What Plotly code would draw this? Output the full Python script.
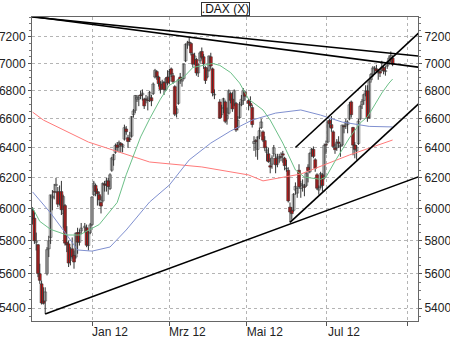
import numpy as np
import pandas as pd
import plotly.graph_objects as go

START = "2011-11-16"
END = "2012-08-22"
holidays = ["2011-12-26", "2012-04-06", "2012-04-09", "2012-05-01"]

opens = [
    5990, 5940, 5790, 5775, 5600, 5540, 5440, 5440, 5600, 5750, 5820,
    6070, 6110, 6150, 6110, 6050, 6110, 5970, 6020, 5790, 5780, 5680, 5750, 5710, 5700, 5850, 5790, 5860, 5880, 5880, 5770, 5850,
    5900, 6090, 6150, 6110, 6090, 6040, 6050, 6160, 6150, 6180, 6130, 6250, 6320, 6370, 6420, 6410, 6430, 6410, 6460, 6530, 6470, 6460,
    6480, 6630, 6660, 6740, 6740, 6770, 6770, 6740, 6740, 6730, 6740, 6750, 6780, 6900, 6940, 6900, 6850, 6820, 6860, 6810, 6900,
    6870, 6960, 6910, 6830, 6640, 6710, 6900, 6870, 6890, 7020, 7140, 7160, 7150, 7070, 7000, 7030, 6930, 7020, 7090, 7050, 6970, 6900,
    6950, 7050, 6960, 6770, 6720, 6630, 6680, 6720, 6600, 6640, 6780, 6740, 6700, 6710, 6540, 6610, 6700, 6730, 6790,
    6730, 6710, 6680, 6430, 6450, 6390, 6480, 6540, 6510, 6450, 6370, 6360, 6280, 6290, 6360, 6330, 6290, 6330, 6340, 6360, 6330, 6260,
    6250, 6010, 5990, 5990, 6120, 6100, 6250, 6130, 6150, 6140, 6150, 6270, 6240, 6370, 6390, 6320, 6220, 6120, 6140, 6220, 6200,
    6420, 6440, 6590, 6560, 6510, 6400, 6400, 6440, 6410, 6420, 6550, 6550, 6560, 6600, 6720, 6540, 6420, 6380, 6430, 6600, 6700, 6730,
    6780, 6800, 6610, 6880, 6920, 6960, 6960, 6930, 6940, 6950, 6970, 6940, 6980, 7010, 7030, 7040,
]
highs = [
    6010, 5980, 5850, 5780, 5660, 5560, 5520, 5520, 5760, 5830, 6090,
    6120, 6160, 6200, 6140, 6150, 6180, 6090, 6030, 5890, 5800, 5760, 5820, 5740, 5850, 5880, 5870, 5910, 5910, 5900, 5860, 5910,
    6080, 6180, 6160, 6130, 6110, 6080, 6170, 6180, 6200, 6200, 6230, 6340, 6360, 6430, 6440, 6450, 6440, 6430, 6560, 6550, 6490, 6510,
    6620, 6670, 6770, 6770, 6770, 6800, 6810, 6750, 6770, 6760, 6800, 6770, 6860, 6960, 6950, 6910, 6870, 6880, 6870, 6900, 6950,
    6960, 6970, 6930, 6840, 6690, 6890, 6930, 6900, 7000, 7150, 7170, 7194, 7160, 7080, 7080, 7040, 7000, 7090, 7120, 7070, 6980, 6970,
    7060, 7080, 6970, 6810, 6740, 6700, 6750, 6730, 6680, 6810, 6790, 6790, 6810, 6720, 6620, 6720, 6770, 6820, 6800,
    6740, 6760, 6700, 6480, 6460, 6480, 6540, 6600, 6520, 6480, 6410, 6400, 6330, 6350, 6420, 6360, 6360, 6360, 6370, 6380, 6340, 6320,
    6270, 6040, 6010, 6100, 6170, 6140, 6290, 6180, 6190, 6160, 6240, 6290, 6370, 6400, 6410, 6330, 6230, 6150, 6240, 6230, 6430,
    6450, 6590, 6600, 6620, 6520, 6430, 6460, 6480, 6430, 6560, 6560, 6600, 6590, 6720, 6730, 6545, 6440, 6420, 6600, 6700, 6740, 6780,
    6840, 6840, 6880, 6930, 6980, 6980, 6990, 6960, 6960, 7020, 6990, 6980, 7020, 7060, 7090, 7060,
]
lows = [
    5900, 5780, 5740, 5580, 5540, 5420, 5420, 5366, 5590, 5700, 5780,
    5990, 6060, 6100, 6010, 6020, 5960, 5880, 5770, 5730, 5640, 5650, 5690, 5630, 5690, 5720, 5770, 5840, 5850, 5760, 5740, 5840,
    5890, 6080, 6080, 6020, 6020, 5970, 6040, 6110, 6110, 6090, 6120, 6240, 6280, 6360, 6380, 6370, 6370, 6370, 6450, 6490, 6400, 6440,
    6470, 6610, 6640, 6720, 6690, 6740, 6730, 6670, 6710, 6660, 6720, 6690, 6770, 6890, 6880, 6830, 6780, 6810, 6770, 6800, 6840,
    6850, 6900, 6850, 6620, 6610, 6700, 6850, 6830, 6880, 7010, 7110, 7130, 7060, 6970, 6990, 6910, 6900, 7000, 7030, 6960, 6850, 6890,
    6940, 6960, 6760, 6740, 6600, 6610, 6640, 6570, 6560, 6630, 6710, 6650, 6690, 6510, 6520, 6600, 6690, 6700, 6730,
    6660, 6680, 6540, 6380, 6340, 6320, 6460, 6530, 6440, 6380, 6310, 6300, 6230, 6260, 6340, 6230, 6270, 6300, 6310, 6300, 6250, 6240,
    6040, 5914, 5930, 5980, 6090, 6070, 6130, 6070, 6110, 6080, 6140, 6170, 6230, 6340, 6330, 6240, 6120, 6090, 6130, 6110, 6190,
    6360, 6430, 6540, 6510, 6400, 6360, 6380, 6400, 6340, 6410, 6500, 6530, 6500, 6590, 6610, 6350, 6330, 6320, 6420, 6590, 6670, 6700,
    6760, 6580, 6600, 6860, 6900, 6920, 6930, 6880, 6900, 6940, 6920, 6910, 6960, 6990, 7010, 6980,
]
closes = [
    5933, 5800, 5800, 5601, 5561, 5429, 5427, 5493, 5745, 5800, 6089,
    6080, 6106, 6157, 6029, 6105, 5994, 6078, 5785, 5774, 5664, 5730, 5702, 5670, 5847, 5791, 5850, 5878, 5890, 5772, 5849, 5898,
    6075, 6166, 6111, 6096, 6057, 6017, 6163, 6152, 6179, 6143, 6220, 6332, 6354, 6416, 6404, 6436, 6419, 6422, 6539, 6511, 6444, 6458,
    6616, 6656, 6766, 6753, 6754, 6765, 6783, 6692, 6738, 6729, 6789, 6728, 6849, 6949, 6903, 6852, 6809, 6864, 6809, 6888, 6856,
    6941, 6921, 6866, 6633, 6671, 6880, 6880, 6879, 6996, 7144, 7154, 7157, 7079, 6995, 7056, 6930, 6996, 7079, 7046, 6998, 6875, 6947,
    7056, 6982, 6784, 6775, 6606, 6674, 6743, 6583, 6625, 6801, 6732, 6671, 6801, 6523, 6590, 6705, 6739, 6801, 6761,
    6710, 6694, 6561, 6444, 6444, 6475, 6518, 6579, 6453, 6401, 6386, 6308, 6271, 6332, 6401, 6287, 6339, 6339, 6337, 6351, 6281, 6264,
    6050, 5979, 5969, 6093, 6144, 6130, 6141, 6162, 6152, 6138, 6229, 6248, 6363, 6392, 6343, 6263, 6132, 6136, 6228, 6150, 6416,
    6419, 6578, 6566, 6536, 6410, 6388, 6440, 6431, 6419, 6557, 6545, 6579, 6577, 6700, 6630, 6419, 6390, 6405, 6584, 6689, 6723, 6772,
    6796, 6606, 6865, 6919, 6967, 6966, 6944, 6945, 6929, 6974, 6946, 6947, 6990, 7040, 7060, 6995,
]

# moving averages (date, value)
ma_green_dates = ["2011-11-16", "2011-11-22", "2011-11-30", "2011-12-13", "2011-12-22", "2012-01-06", "2012-01-20",
                  "2012-01-27", "2012-02-08", "2012-02-15", "2012-02-23", "2012-03-01", "2012-03-13", "2012-03-20",
                  "2012-04-04", "2012-04-10", "2012-04-18", "2012-04-25", "2012-05-02", "2012-05-14", "2012-05-18",
                  "2012-05-29", "2012-06-07", "2012-06-14", "2012-06-27", "2012-07-02", "2012-07-09", "2012-07-19",
                  "2012-07-27", "2012-08-02", "2012-08-07", "2012-08-14", "2012-08-20", "2012-08-22"]
ma_green = [6005, 5920, 5870, 5835, 5835, 5900, 6040, 6220, 6475, 6600, 6740, 6840, 6900, 6970,
            7000, 6986, 6933, 6856, 6740, 6663, 6592, 6433, 6252, 6205, 6190, 6205, 6310, 6468,
            6572, 6614, 6677, 6784, 6856, 6885]
ma_blue_dates = ["2011-11-16", "2011-11-30", "2011-12-09", "2011-12-21", "2012-01-02", "2012-01-16", "2012-01-27",
                 "2012-02-15", "2012-03-01", "2012-03-16", "2012-04-03", "2012-04-18", "2012-05-04", "2012-05-23",
                 "2012-06-12", "2012-06-27", "2012-07-13", "2012-08-03", "2012-08-22"]
ma_blue = [6108, 5973, 5866, 5743, 5736, 5761, 5866, 6043, 6153, 6319, 6433, 6516, 6592, 6641,
           6663, 6627, 6578, 6548, 6544]
ma_red_dates = ["2011-11-16", "2011-11-24", "2011-12-29", "2012-02-15", "2012-03-27", "2012-05-02", "2012-05-14",
                "2012-06-04", "2012-06-12", "2012-07-19", "2012-08-22"]
ma_red = [6648, 6592, 6440, 6305, 6272, 6219, 6180, 6210, 6225, 6352, 6454]

# trend lines (date, price) pairs
trend_lines = [
    (["2011-11-14", "2012-09-14"], [7357, 7052]),
    (["2011-11-14", "2012-09-14"], [7361, 6968]),
    (["2011-11-25", "2012-09-14"], [5366, 6218]),
    (["2012-06-04", "2012-09-14"], [5914, 6737]),
    (["2012-06-07", "2012-09-14"], [6403, 7262]),
]

tick_dates = ["2012-01-02", "2012-03-01", "2012-05-01", "2012-07-02", "2012-09-03"]
tick_text = ["Jan 12", "Mrz 12", "Mai 12", "Jul 12", ""]
y_ticks = [5400, 5600, 5800, 6000, 6200, 6400, 6600, 6800, 7000, 7200]


def pos(dates):
    return np.busday_count(START, list(dates)).tolist()


weekdays = pd.bdate_range(START, END)
trading = weekdays[~weekdays.isin(pd.to_datetime(holidays))]
x = pos(trading.strftime("%Y-%m-%d"))

o = np.array(opens, float)
c = np.array(closes, float)
up = c >= o
body_lo = np.minimum(o, c)
body_h = np.maximum(np.abs(c - o), 4.0)

# wicks
wx, wy = [], []
for xi, lo, hi in zip(x, lows, highs):
    wx += [xi, xi, None]
    wy += [lo, hi, None]

fig = go.Figure()
fig.add_trace(go.Scatter(x=wx, y=wy, mode="lines", line=dict(color="#333", width=1), hoverinfo="skip"))
for mask, fill, edge in [(up, "#dcdcdc", "#555555"), (~up, "#ff1010", "#2a2a2a")]:
    fig.add_trace(go.Bar(
        x=[xi for xi, m in zip(x, mask) if m], base=body_lo[mask], y=body_h[mask],
        width=1.6, marker=dict(color=fill, line=dict(color=edge, width=0.6)), hoverinfo="skip",
    ))
for d, v, col in [(ma_red_dates, ma_red, "#ff7a7a"), (ma_blue_dates, ma_blue, "#8090d0"),
                  (ma_green_dates, ma_green, "#6cc088")]:
    fig.add_trace(go.Scatter(x=pos(d), y=v, mode="lines", line=dict(color=col, width=1),
                             hoverinfo="skip", yaxis="y2"))
for d, v in trend_lines:
    fig.add_trace(go.Scatter(x=pos(d), y=v, mode="lines", line=dict(color="black", width=1.6),
                             hoverinfo="skip", yaxis="y2"))

y_lo, y_hi = 5326, 7354
minor_vals = [v for v in range(5350, 7400, 50) if v % 200 != 0]
yax = dict(type="log", range=[np.log10(y_lo), np.log10(y_hi)], tickvals=y_ticks,
           ticktext=[str(v) for v in y_ticks], ticks="outside", ticklen=3, tickcolor="#555",
           showline=True, linecolor="#666", linewidth=1, automargin=False,
           tickfont=dict(family="Liberation Sans, Arial", size=12, color="#222"),
           minor=dict(tickvals=minor_vals, ticks="outside", ticklen=2, tickcolor="#777", showgrid=False),
           zeroline=False, fixedrange=True)

fig.update_layout(
    width=450, height=338, margin=dict(l=32, r=32, t=17, b=17, autoexpand=False),
    paper_bgcolor="white", plot_bgcolor="white", showlegend=False, barmode="overlay",
    xaxis=dict(range=[-0.33, 214.1], tickvals=pos(tick_dates), ticktext=tick_text,
               ticks="", showline=True, linecolor="#666",
               linewidth=1, mirror=True, showgrid=True, gridcolor="#b4b4b4", griddash="dot",
               gridwidth=1, zeroline=False, ticklabelshift=18, automargin=False,
               minor=dict(tickvals=pos(tick_dates), ticks="outside", ticklen=4, tickcolor="#555",
                          showgrid=False),
               tickfont=dict(family="Liberation Sans, Arial", size=12, color="#222")),
    yaxis=dict(**yax, side="left", showgrid=True, gridcolor="#b4b4b4", griddash="dot", gridwidth=1),
    yaxis2=dict(**yax, side="right", overlaying="y", showgrid=False),
    annotations=[dict(text=".DAX (X)", x=0.5, y=1, xref="paper", yref="paper", yanchor="bottom",
                      xanchor="center", yshift=1, showarrow=False, bordercolor="#333", borderwidth=1,
                      borderpad=0, bgcolor="white", width=47, height=12,
                      font=dict(family="Liberation Sans, Arial", size=12, color="#111"))],
)

fig.write_html("out.html")
